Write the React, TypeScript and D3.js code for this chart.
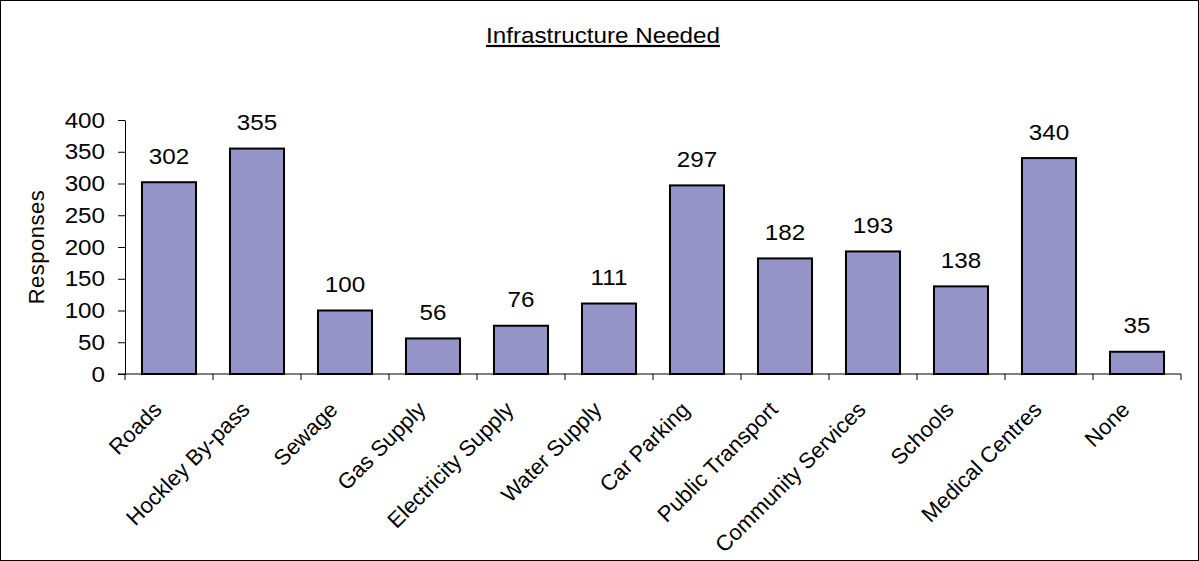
import React, { useEffect, useRef } from 'react';
import * as d3 from 'd3';

const categories = [
  'Roads', 'Hockley By-pass', 'Sewage', 'Gas Supply', 'Electricity Supply', 'Water Supply',
  'Car Parking', 'Public Transport', 'Community Services', 'Schools', 'Medical Centres', 'None'
];
const responses = [302, 355, 100, 56, 76, 111, 297, 182, 193, 138, 340, 35];
const yTicks = [0, 50, 100, 150, 200, 250, 300, 350, 400];

const width = 1199;
const height = 561;
const margin = { top: 120, right: 18, bottom: 187, left: 125 };
const font = '"Liberation Sans", Arial, sans-serif';
const stretch = 1.1;

const App = () => {
  const svgRef = useRef(null);

  useEffect(() => {
    const svg = d3.select(svgRef.current);
    svg.selectAll('*').remove();

    const x = d3.scaleBand()
      .domain(categories)
      .range([margin.left, width - margin.right])
      .paddingInner(0.386)
      .paddingOuter(0.193);

    const y = d3.scaleLinear()
      .domain([0, 400])
      .range([height - margin.bottom, margin.top]);

    svg.append('rect')
      .attr('x', 0.5).attr('y', 0.5)
      .attr('width', width - 1).attr('height', height - 1)
      .attr('fill', '#fff').attr('stroke', '#000');

    // title
    svg.append('text')
      .attr('transform', `translate(603,43) scale(${stretch},1)`)
      .attr('text-anchor', 'middle')
      .style('font', `22px ${font}`)
      .style('text-decoration', 'underline')
      .text('Infrastructure Needed');

    // y axis
    const yAxis: any = d3.axisLeft(y).tickValues(yTicks).tickSize(7).tickSizeOuter(0);
    svg.append('g')
      .attr('transform', `translate(${margin.left},0)`)
      .call(yAxis)
      .call(g => g.select('.domain').attr('stroke', '#000'))
      .call(g => g.selectAll('.tick line').attr('stroke', '#000'))
      .call(g => g.selectAll('.tick text')
        .attr('x', -20 / stretch)
        .attr('transform', `scale(${stretch},1)`)
        .attr('fill', '#000')
        .style('font', `22px ${font}`));

    // x axis with ticks at band edges
    const step = x.step();
    const bw = x.bandwidth();
    const edges = d3.range(categories.length + 1).map(i =>
      i < categories.length
        ? (x(categories[i]) as number) + bw / 2 - step / 2
        : (x(categories[i - 1]) as number) + bw / 2 + step / 2);
    const xg = svg.append('g');
    xg.append('line')
      .attr('x1', margin.left - 7).attr('x2', edges[edges.length - 1])
      .attr('y1', y(0)).attr('y2', y(0))
      .attr('stroke', '#000');
    xg.selectAll('line.tk')
      .data(edges)
      .join('line')
      .attr('class', 'tk')
      .attr('x1', d => d).attr('x2', d => d)
      .attr('y1', y(0)).attr('y2', y(0) + 6)
      .attr('stroke', '#000');

    // bars
    svg.append('g')
      .selectAll('rect')
      .data(responses)
      .join('rect')
      .attr('x', (d, i) => x(categories[i]) as number)
      .attr('y', d => y(d))
      .attr('width', bw)
      .attr('height', d => y(0) - y(d))
      .attr('fill', '#9494c8')
      .attr('stroke', '#000')
      .attr('stroke-width', 2);

    // value labels
    svg.append('g')
      .selectAll('text')
      .data(responses)
      .join('text')
      .attr('transform', (d, i) =>
        `translate(${(x(categories[i]) as number) + bw / 2},${y(d) - 18.5}) scale(${stretch},1)`)
      .attr('text-anchor', 'middle')
      .style('font', `22px ${font}`)
      .text(d => d);

    // category labels
    svg.append('g')
      .selectAll('text')
      .data(categories)
      .join('text')
      .attr('transform', d => `translate(${(x(d) as number) + bw / 2 - 6},411) rotate(-45)`)
      .attr('text-anchor', 'end')
      .style('font', `22px ${font}`)
      .text(d => d);

    // y title
    svg.append('text')
      .attr('transform', `translate(44,${(y(0) + y(400)) / 2}) rotate(-90)`)
      .attr('text-anchor', 'middle')
      .style('font', `22px ${font}`)
      .style('letter-spacing', '0.5px')
      .text('Responses');
  }, []);

  return (
    <svg ref={svgRef} width={width} height={height}
      style={{ position: 'absolute', left: 0, top: 0, display: 'block' }} />
  );
};

export default App;
